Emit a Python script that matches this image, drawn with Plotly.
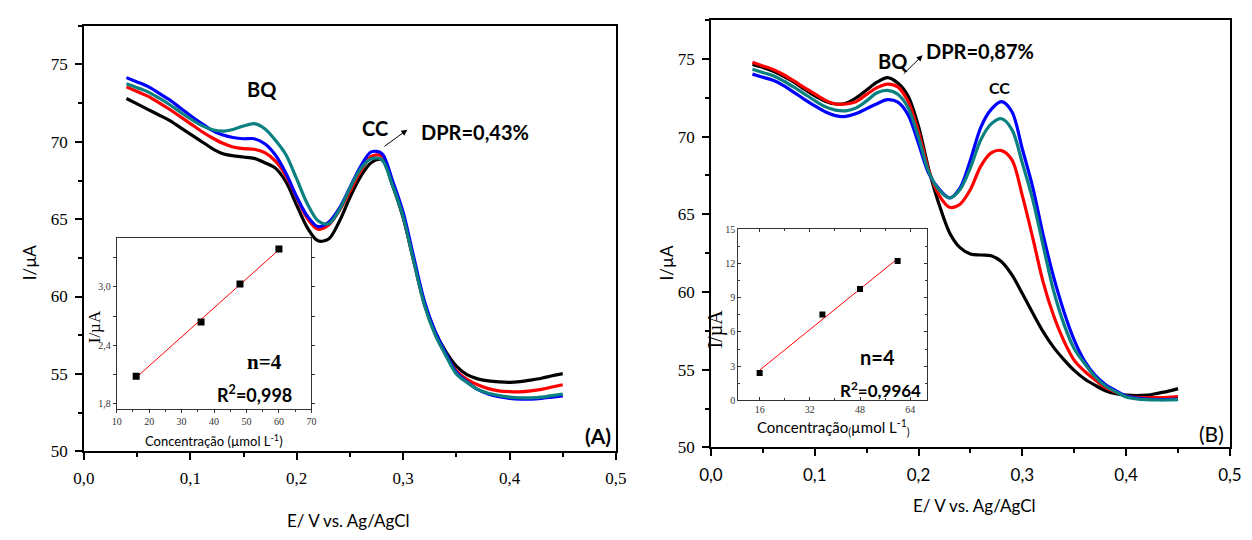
import numpy as np
import plotly.graph_objects as go

W, H = 1252, 540

# Potential (V vs. Ag/AgCl) shared by every voltammogram
potential = [0.04, 0.05, 0.06, 0.07, 0.08, 0.09, 0.10, 0.11, 0.12, 0.13,
             0.14, 0.15, 0.16, 0.17, 0.18, 0.19, 0.20, 0.21, 0.22, 0.23,
             0.24, 0.25, 0.26, 0.27, 0.28, 0.29, 0.30, 0.31, 0.32, 0.33,
             0.34, 0.35, 0.36, 0.37, 0.38, 0.39, 0.40, 0.41, 0.42, 0.43,
             0.44, 0.45]

# Panel A currents (uA)
a_black = [72.80, 72.45, 72.10, 71.75, 71.40, 70.95, 70.50, 70.05, 69.60, 69.25,
           69.10, 69.02, 68.93, 68.65, 68.30, 67.40, 65.90, 64.45, 63.60, 63.72,
           64.85, 66.40, 67.75, 68.65, 68.85, 67.20, 65.10, 62.30, 59.60, 57.75,
           56.45, 55.50, 54.95, 54.68, 54.55, 54.48, 54.45, 54.50, 54.60, 54.72,
           54.88, 55.02]
a_red = [73.55, 73.25, 72.95, 72.55, 72.12, 71.65, 71.18, 70.70, 70.28, 69.92,
         69.67, 69.56, 69.52, 69.30, 68.75, 67.80, 66.40, 65.05, 64.35, 64.62,
         65.55, 66.80, 68.10, 69.05, 69.10, 67.30, 65.20, 62.30, 59.50, 57.60,
         56.25, 55.20, 54.65, 54.30, 54.05, 53.90, 53.85, 53.84, 53.90, 54.00,
         54.15, 54.30]
a_teal = [73.75, 73.50, 73.23, 72.85, 72.43, 71.95, 71.49, 71.08, 70.80, 70.69,
          70.80, 71.02, 71.18, 70.85, 70.10, 69.15, 67.60, 66.00, 64.90, 64.70,
          65.60, 67.00, 68.25, 68.90, 68.85, 67.20, 65.15, 62.25, 59.45, 57.55,
          56.20, 55.00, 54.45, 54.00, 53.75, 53.60, 53.50, 53.45, 53.45, 53.50,
          53.60, 53.70]
a_blue = [74.15, 73.87, 73.58, 73.17, 72.74, 72.22, 71.70, 71.22, 70.76, 70.45,
          70.28, 70.20, 70.20, 69.88, 69.15, 67.95, 66.45, 65.20, 64.52, 64.80,
          65.70, 67.05, 68.40, 69.35, 69.25, 67.50, 65.45, 62.55, 59.70, 57.75,
          56.35, 55.10, 54.50, 54.00, 53.70, 53.52, 53.42, 53.37, 53.37, 53.42,
          53.50, 53.58]

# Panel B currents (uA)
b_black = [74.64, 74.45, 74.20, 73.88, 73.50, 73.05, 72.62, 72.28, 72.10, 72.15,
           72.50, 73.00, 73.50, 73.80, 73.45, 72.60, 70.65, 67.85, 65.60, 63.80,
           62.85, 62.45, 62.38, 62.33, 61.95, 61.10, 59.90, 58.65, 57.45, 56.45,
           55.65, 54.95, 54.40, 54.00, 53.65, 53.45, 53.36, 53.33, 53.36, 53.47,
           53.60, 53.78]
b_red = [74.79, 74.55, 74.32, 73.98, 73.58, 73.15, 72.75, 72.35, 72.10, 72.10,
         72.25, 72.72, 73.15, 73.38, 73.20, 72.25, 70.30, 67.80, 66.20, 65.45,
         65.65, 66.60, 68.10, 68.95, 69.10, 68.50, 66.20, 63.50, 60.65, 58.50,
         56.85, 55.60, 54.90, 54.35, 53.85, 53.55, 53.30, 53.22, 53.20, 53.20,
         53.22, 53.26]
b_teal = [74.33, 74.12, 73.92, 73.58, 73.18, 72.75, 72.32, 71.93, 71.70, 71.66,
          71.85, 72.30, 72.82, 72.97, 72.72, 71.85, 69.95, 67.70, 66.55, 66.05,
          66.60, 68.00, 69.80, 70.82, 71.15, 70.45, 68.30, 65.95, 63.00, 60.10,
          57.95, 56.35, 55.40, 54.55, 53.95, 53.58, 53.25, 53.12, 53.07, 53.05,
          53.05, 53.07]
b_blue = [74.02, 73.82, 73.62, 73.28, 72.85, 72.40, 71.98, 71.60, 71.35, 71.30,
          71.48, 71.80, 72.12, 72.38, 72.22, 71.40, 69.55, 67.60, 66.60, 66.05,
          66.70, 68.50, 70.60, 71.75, 72.25, 71.60, 69.20, 66.75, 63.70, 61.00,
          58.75, 56.90, 55.55, 54.65, 54.05, 53.65, 53.30, 53.17, 53.10, 53.08,
          53.08, 53.10]

# Calibration data for the insets
concentration = [16, 36, 48, 60]
calib_a = [2.08, 2.64, 3.03, 3.39]
calib_b = [2.41, 7.53, 9.77, 12.22]

BLACK, RED, BLUE, TEAL = "#000000", "#ff0000", "#0000ff", "#0a8080"
SERIF = "Liberation Serif"
SANS = "Lato"

fig = go.Figure()

for series, col in [(a_black, BLACK), (a_red, RED), (a_blue, BLUE), (a_teal, TEAL)]:
    fig.add_trace(go.Scatter(x=potential, y=series, mode="lines",
                             line=dict(color=col, width=3.2, shape="spline", smoothing=0.9),
                             xaxis="x", yaxis="y", showlegend=False, hoverinfo="skip"))
for series, col in [(b_black, BLACK), (b_red, RED), (b_blue, BLUE), (b_teal, TEAL)]:
    fig.add_trace(go.Scatter(x=potential, y=series, mode="lines",
                             line=dict(color=col, width=3.2, shape="spline", smoothing=0.9),
                             xaxis="x2", yaxis="y2", showlegend=False, hoverinfo="skip"))

# Calibration insets: points plus least-squares line
for calib, xa, ya, msize in [(calib_a, "x3", "y3", 7), (calib_b, "x4", "y4", 6)]:
    slope, intercept = np.polyfit(concentration, calib, 1)
    xs = [concentration[0], concentration[-1]]
    fig.add_trace(go.Scatter(x=xs, y=[slope * v + intercept for v in xs], mode="lines",
                             line=dict(color=RED, width=1),
                             xaxis=xa, yaxis=ya, showlegend=False, hoverinfo="skip"))
    fig.add_trace(go.Scatter(x=concentration, y=calib, mode="markers",
                             marker=dict(symbol="square", size=msize, color="black"),
                             xaxis=xa, yaxis=ya, showlegend=False, hoverinfo="skip"))


def main_axis(**kw):
    d = dict(showgrid=False, zeroline=False, showline=True, linecolor="black", linewidth=1.5,
             mirror=True, ticks="outside", ticklen=7, tickwidth=1.5, tickcolor="black",
             ticklabelstandoff=4)
    d.update(kw)
    return d


def inset_axis(**kw):
    d = dict(showgrid=False, zeroline=False, showline=True, linecolor="#333333", linewidth=1,
             tickcolor="#333333", tickwidth=1, ticklen=3,
             tickfont=dict(family=SERIF, size=10, color="#333333"))
    d.update(kw)
    return d


def px2paper(px, py):
    return px / W, 1 - py / H


fig.update_layout(
    width=W, height=H, margin=dict(l=0, r=0, t=0, b=0),
    paper_bgcolor="white", plot_bgcolor="white", separators=",.",
    xaxis=main_axis(domain=[0.0585, 0.4914], range=[0, 0.5], dtick=0.1, tick0=0, tickformat=".1f",
                    anchor="y", tickfont=dict(family=SERIF, size=17, color="black"),
                    minor=dict(dtick=0.05, ticks="outside", ticklen=4, tickwidth=1.5, tickcolor="black")),
    yaxis=main_axis(domain=[0.15, 0.9604], range=[50, 77.5], dtick=5, tick0=50,
                    anchor="x", tickfont=dict(family=SERIF, size=17, color="black"),
                    minor=dict(dtick=2.5, ticks="outside", ticklen=4, tickwidth=1.5, tickcolor="black")),
    xaxis2=main_axis(domain=[0.5687, 0.991], range=[0, 0.5], dtick=0.1, tick0=0, tickformat=".1f",
                     anchor="y2", tickfont=dict(family=SANS, size=17, color="black"),
                     minor=dict(dtick=0.05, ticks="outside", ticklen=4, tickwidth=1.5, tickcolor="black")),
    yaxis2=main_axis(domain=[0.1574, 0.9713], range=[50, 77.5], dtick=5, tick0=50,
                     anchor="x2", tickfont=dict(family=SERIF, size=17, color="black"),
                     minor=dict(dtick=2.5, ticks="outside", ticklen=4, tickwidth=1.5, tickcolor="black")),
    xaxis3=inset_axis(domain=[0.0852, 0.2436], range=[10, 70], dtick=10, tick0=10, anchor="y3",
                      ticks="outside", mirror=True,
                      minor=dict(dtick=5, ticks="outside", ticklen=2, tickcolor="#333333")),
    yaxis3=inset_axis(domain=[0.2306, 0.5556], range=[1.745, 3.5], dtick=0.6, tick0=1.8,
                      tickformat=".1f", anchor="x3", ticks="outside", mirror="allticks",
                      minor=dict(dtick=0.3, ticks="outside", ticklen=3, tickcolor="#333333")),
    xaxis4=inset_axis(domain=[0.591, 0.7446], range=[9.2, 69.4], dtick=16, tick0=16, anchor="y4",
                      ticks="inside", mirror="allticks",
                      minor=dict(dtick=8, ticks="inside", ticklen=2, tickcolor="#333333")),
    yaxis4=inset_axis(domain=[0.2469, 0.5728], range=[0, 15], dtick=3, tick0=0, anchor="x4",
                      ticks="inside", mirror="allticks",
                      minor=dict(dtick=1.5, ticks="inside", ticklen=2, tickcolor="#333333")),
)

notes = [
    # axis titles of the main panels
    (18, 265, "I/µA", SANS, 17, -90),
    (343, 530, "E/ V vs. Ag/AgCl", SANS, 17, 0),
    (667, 265, "I/µA", SANS, 17, -90),
    (981, 515, "E/ V vs. Ag/AgCl", SANS, 17, 0),
    # peak labels
    (255, 86, "<b>BQ</b>", SANS, 20, 0),
    (370, 127, "<b>CC</b>", SANS, 20, 0),
    (472, 131, "<b>DPR=0,43%</b>", SANS, 20, 0),
    (897, 58, "<b>BQ</b>", SANS, 20, 0),
    (1006, 85, "<b>CC</b>", SANS, 16, 0),
    (986, 47, "<b>DPR=0,87%</b>", SANS, 20, 0),
    (597, 443, "<b>(A)</b>", SANS, 21, 0),
    (1222, 441, "(B)", SANS, 21, 0),
    # inset A
    (84, 331, "I/µA", SERIF, 17, -90),
    (206, 448, "Concentração (µmol L<sup>-1</sup>)", SANS, 13, 0),
    (257, 367, "<b>n=4</b>", SERIF, 21, 0),
    (247, 400, "<b>R<sup>2</sup>=0,998</b>", SANS, 18, 0),
    # inset B
    (717, 333, "I/µA", SERIF, 20, -90),
    (837, 435, "Concentração<sub>(</sub>µmol L<sup>-1</sup><sub>)</sub>", SANS, 15, 0),
    (882, 362, "<b>n=4</b>", SANS, 20, 0),
    (885, 395, "<b>R<sup>2</sup>=0,9964</b>", SANS, 17, 0),
]
for px, py, text, fam, size, ang in notes:
    xp, yp = px2paper(px, py)
    fig.add_annotation(x=xp, y=yp, xref="paper", yref="paper", text=text, showarrow=False,
                       xanchor="center", yanchor="middle", textangle=ang,
                       font=dict(family=fam, size=size, color="black"))

# arrows pointing from the peak labels
for hx, hy, tx, ty in [(402.7, 128.3, 378.3, 146.0), (927.7, 51.7, 907.3, 71.7)]:
    xp, yp = px2paper(hx, hy)
    fig.add_annotation(x=xp, y=yp, xref="paper", yref="paper", text="", showarrow=True,
                       ax=tx - hx, ay=ty - hy, arrowhead=2, arrowsize=1.2, arrowwidth=1,
                       arrowcolor="black")

fig.write_html("out.html",
               post_script="document.body.style.margin='0';document.body.style.overflow='hidden';")
